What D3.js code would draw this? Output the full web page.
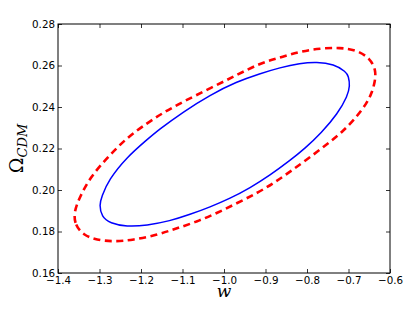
<!DOCTYPE html>
<html>
<head>
<meta charset="utf-8">
<script src="https://cdn.jsdelivr.net/npm/d3@7"></script>
<style>
  body { margin: 0; background: #fff; }
  svg { display: block; }
  .tick text { font-family: "DejaVu Sans", sans-serif; font-size: 10.3px; fill: #000; }
</style>
</head>
<body>
<div id="graph"></div>
<script>
// contour samples (w, Omega_CDM), going round each curve
var blueW = [-1.3005, -1.2947, -1.2747, -1.2345, -1.1863, -1.1301, -1.0819, -1.0337, -0.9855, -0.9373, -0.8892,
             -0.8410, -0.8048, -0.7663, -0.7253, -0.7024, -0.6964, -0.7000, -0.7060, -0.7349, -0.7766, -0.8169,
             -0.8651, -0.9133, -0.9694, -1.0337, -1.0981, -1.1583, -1.1863, -1.2337, -1.2783, -1.2947];
var blueO = [0.1928, 0.1871, 0.1840, 0.1823, 0.1829, 0.1851, 0.1882, 0.1918, 0.1959, 0.2010, 0.2071,
             0.2142, 0.2201, 0.2273, 0.2370, 0.2453, 0.2501, 0.2549, 0.2570, 0.2606, 0.2618, 0.2611,
             0.2590, 0.2561, 0.2522, 0.2458, 0.2377, 0.2289, 0.2241, 0.2159, 0.2048, 0.1968];
var redW = [-1.3619, -1.3590, -1.3390, -1.3067, -1.2667, -1.2186, -1.1622, -1.1157, -1.0658, -1.0176, -0.9694,
            -0.9212, -0.8812, -0.8410, -0.8000, -0.7525, -0.7125, -0.6802, -0.6561, -0.6441, -0.6361, -0.6337,
            -0.6482, -0.6802, -0.7205, -0.7687, -0.8169, -0.8651, -0.9133, -0.9694, -1.0337, -1.0981, -1.1463,
            -1.1863, -1.2345, -1.2795, -1.3229, -1.3470];
var redO = [0.1894, 0.1831, 0.1783, 0.1759, 0.1751, 0.1759, 0.1783, 0.1814, 0.1847, 0.1888, 0.1936,
            0.1984, 0.2032, 0.2088, 0.2147, 0.2219, 0.2284, 0.2353, 0.2418, 0.2466, 0.2522, 0.2578,
            0.2635, 0.2675, 0.2686, 0.2683, 0.2667, 0.2638, 0.2611, 0.2554, 0.2490, 0.2426, 0.2373,
            0.2321, 0.2251, 0.2160, 0.2060, 0.1968];
var xTicks = [-1.4, -1.3, -1.2, -1.1, -1.0, -0.9, -0.8, -0.7, -0.6];
var yTicks = [0.16, 0.18, 0.20, 0.22, 0.24, 0.26, 0.28];

var width = 415, height = 311;
var plotL = 58, plotR = 390, plotT = 24, plotB = 273;

var svg = d3.select('#graph').append('svg')
    .attr('width', width)
    .attr('height', height);

var x = d3.scaleLinear().domain([-1.4, -0.6]).range([plotL, plotR]);
var y = d3.scaleLinear().domain([0.16, 0.28]).range([plotB, plotT]);

function fmt(d, n) {
    return d3.format('.' + n + 'f')(d).replace('-', '\u2212');
}

// curves (basis spline smooths out the reading jitter)
var line = d3.line()
    .x(function(d) { return x(d[0]); })
    .y(function(d) { return y(d[1]); })
    .curve(d3.curveBasisClosed);

svg.append('path')
    .attr('d', line(d3.zip(redW, redO)))
    .attr('fill', 'none')
    .attr('stroke', '#ff0000')
    .attr('stroke-width', 2.6)
    .attr('stroke-dasharray', '7,4.5');

svg.append('path')
    .attr('d', line(d3.zip(blueW, blueO)))
    .attr('fill', 'none')
    .attr('stroke', '#0000ff')
    .attr('stroke-width', 1.5);

// axes, ticks point inward on all four sides
var ax = svg.append('g');
ax.append('g')
    .attr('transform', 'translate(0,' + plotB + ')')
    .call(d3.axisBottom(x).tickValues(xTicks).tickSizeInner(-4).tickSizeOuter(0).tickPadding(4)
        .tickFormat(function(d) { return fmt(d, 1); }));
ax.append('g')
    .attr('transform', 'translate(0,' + plotT + ')')
    .call(d3.axisTop(x).tickValues(xTicks).tickSizeInner(-4).tickSizeOuter(0).tickFormat(''));
ax.append('g')
    .attr('transform', 'translate(' + plotL + ',0)')
    .call(d3.axisLeft(y).tickValues(yTicks).tickSizeInner(-4).tickSizeOuter(0).tickPadding(3)
        .tickFormat(function(d) { return fmt(d, 2); }));
ax.append('g')
    .attr('transform', 'translate(' + plotR + ',0)')
    .call(d3.axisRight(y).tickValues(yTicks).tickSizeInner(-4).tickSizeOuter(0).tickFormat(''));
ax.selectAll('.domain').remove();
ax.selectAll('.tick line').attr('stroke', '#000').attr('stroke-width', 0.8);

svg.append('rect')
    .attr('x', plotL).attr('y', plotT)
    .attr('width', plotR - plotL).attr('height', plotB - plotT)
    .attr('fill', 'none')
    .attr('stroke', '#000')
    .attr('stroke-width', 1);

// axis labels
svg.append('text')
    .attr('x', (plotL + plotR) / 2)
    .attr('y', 297)
    .attr('text-anchor', 'middle')
    .style('font-family', '"DejaVu Serif", serif')
    .style('font-style', 'italic')
    .style('font-size', '17px')
    .text('w');

var yl = svg.append('text')
    .attr('transform', 'translate(23,' + ((plotT + plotB) / 2) + ') rotate(-90)')
    .attr('text-anchor', 'middle')
    .style('font-family', '"DejaVu Serif", serif')
    .style('font-size', '19px');
yl.append('tspan').text('\u03A9');
yl.append('tspan')
    .attr('dy', 4)
    .style('font-style', 'italic')
    .style('font-size', '13px')
    .text('CDM');
</script>
</body>
</html>
